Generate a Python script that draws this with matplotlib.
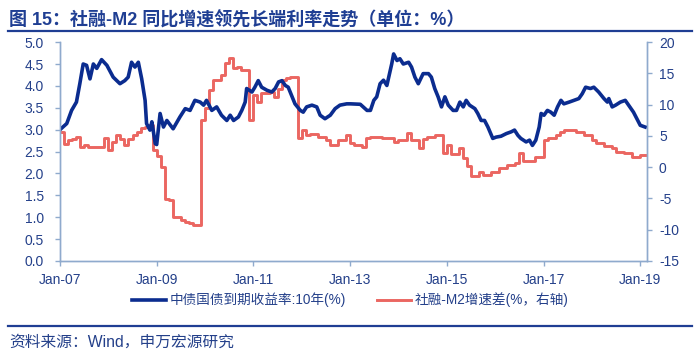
import matplotlib
matplotlib.use("Agg")
import matplotlib.pyplot as plt
import numpy as np

plt.rcParams['font.family'] = ['Liberation Sans', 'Noto Sans CJK SC', 'DejaVu Sans']
plt.rcParams['axes.unicode_minus'] = False

# 中债国债到期收益率:10年(%)  (decimal year, value)
yield_t = [2007.00, 2007.14, 2007.24, 2007.34, 2007.41, 2007.48, 2007.55, 2007.62, 2007.69, 2007.76,
           2007.86, 2007.97, 2008.10, 2008.24, 2008.34, 2008.41, 2008.48, 2008.55, 2008.62, 2008.69,
           2008.76, 2008.79, 2008.86, 2008.90, 2008.97, 2009.00, 2009.07, 2009.14, 2009.21, 2009.34,
           2009.48, 2009.59, 2009.69, 2009.79, 2009.90, 2009.97, 2010.03, 2010.14, 2010.24, 2010.34,
           2010.45, 2010.52, 2010.59, 2010.69, 2010.76, 2010.83, 2010.86, 2010.97, 2011.03, 2011.10,
           2011.17, 2011.28, 2011.38, 2011.45, 2011.52, 2011.59, 2011.66, 2011.72, 2011.79, 2011.86,
           2011.97, 2012.03, 2012.10, 2012.21, 2012.31, 2012.38, 2012.48, 2012.59, 2012.69, 2012.79,
           2012.93, 2013.01, 2013.21, 2013.35, 2013.42, 2013.49, 2013.55, 2013.62, 2013.69, 2013.76,
           2013.86, 2013.90, 2013.97, 2014.03, 2014.10, 2014.21, 2014.27, 2014.34, 2014.41, 2014.51,
           2014.62, 2014.68, 2014.75, 2014.82, 2014.89, 2014.96, 2015.03, 2015.13, 2015.20, 2015.27,
           2015.34, 2015.40, 2015.47, 2015.58, 2015.64, 2015.71, 2015.78, 2015.85, 2015.95, 2016.02,
           2016.12, 2016.23, 2016.33, 2016.40, 2016.47, 2016.53, 2016.64, 2016.71, 2016.77, 2016.84,
           2016.91, 2016.95, 2017.01, 2017.08, 2017.15, 2017.22, 2017.29, 2017.36, 2017.42, 2017.53,
           2017.63, 2017.73, 2017.80, 2017.87, 2017.97, 2018.04, 2018.14, 2018.25, 2018.32, 2018.35,
           2018.42, 2018.49, 2018.59, 2018.69, 2018.76, 2018.86, 2018.93, 2019.00, 2019.10]
yield_v = [3.00, 3.14, 3.44, 3.63, 4.05, 4.50, 4.47, 4.16, 4.50, 4.40,
           4.60, 4.47, 4.20, 4.05, 4.12, 4.20, 4.54, 4.43, 4.54, 4.16,
           3.67, 3.14, 2.99, 3.18, 2.68, 2.66, 3.37, 3.06, 3.21, 3.02,
           3.29, 3.48, 3.44, 3.67, 3.63, 3.56, 3.67, 3.44, 3.52, 3.33,
           3.21, 3.33, 3.21, 3.29, 3.44, 3.63, 3.94, 3.86, 3.97, 4.12,
           3.97, 3.90, 3.86, 3.94, 4.09, 4.12, 4.01, 3.97, 3.78, 3.59,
           3.44, 3.40, 3.52, 3.56, 3.52, 3.33, 3.25, 3.33, 3.48, 3.56,
           3.59, 3.59, 3.58, 3.44, 3.44, 3.67, 3.75, 4.05, 4.13, 4.01,
           4.50, 4.73, 4.58, 4.62, 4.50, 4.54, 4.43, 4.20, 4.05, 4.28,
           4.28, 4.20, 3.94, 3.75, 3.52, 3.75, 3.56, 3.44, 3.44, 3.63,
           3.52, 3.67, 3.56, 3.48, 3.37, 3.21, 3.21, 3.06, 2.80, 2.83,
           2.85, 2.91, 2.95, 2.99, 2.87, 2.80, 2.72, 2.76, 2.64, 2.76,
           3.06, 3.37, 3.33, 3.44, 3.40, 3.33, 3.52, 3.67, 3.59, 3.63,
           3.67, 3.71, 3.82, 3.97, 3.94, 3.97, 3.86, 3.71, 3.63, 3.71,
           3.52, 3.56, 3.63, 3.67, 3.56, 3.40, 3.25, 3.10, 3.06]

# 社融-M2增速差(%, 右轴), monthly from Jan-2007 to Jan-2019
spread_start = 2007.0
spread_v = [5.7, 3.7, 4.3, 4.5, 4.8, 3.3, 3.5, 3.3, 3.3, 3.3, 3.3, 4.6,
            2.7, 4.0, 5.1, 4.5, 3.6, 4.5, 5.1, 5.7, 6.2, 6.5, 6.7, 2.7,
            1.8, 0.1, -5.1, -5.3, -7.9, -7.9, -8.4, -8.7, -8.9, -9.2, -9.2, 7.5,
            9.4, 12.3, 13.9, 13.9, 14.7, 16.6, 17.4, 15.8, 16.0, 15.6, 15.6, 7.5,
            11.5, 10.4, 11.8, 11.8, 12.0, 11.2, 12.5, 13.9, 14.2, 14.4, 14.4, 4.6,
            5.9, 5.1, 5.3, 5.3, 4.8, 4.8, 4.3, 3.5, 3.5, 4.3, 4.3, 5.1,
            3.8, 3.5, 3.5, 3.2, 4.6, 4.8, 4.8, 4.8, 4.6, 4.6, 4.6, 4.0,
            4.3, 4.3, 5.4, 4.3, 4.3, 3.0, 4.5, 4.8, 4.8, 5.2, 5.2, 2.3,
            3.5, 2.1, 2.1, 3.0, 1.5, 0.2, -1.4, -1.4, -0.7, -1.2, -1.2, -0.7,
            -0.7, -0.2, -0.2, 0.3, 0.3, 0.6, 2.2, 1.0, 1.0, 1.0, 1.7, 1.7,
            4.3, 4.6, 4.6, 5.1, 5.7, 6.0, 6.0, 6.0, 5.7, 5.7, 5.1, 5.1,
            4.3, 3.8, 3.8, 3.4, 3.4, 3.0, 2.5, 2.5, 2.2, 2.2, 1.7, 1.7,
            2.0]

xticks = [2007, 2009, 2011, 2013, 2015, 2017, 2019]
xtick_labels = ['Jan-07', 'Jan-09', 'Jan-11', 'Jan-13', 'Jan-15', 'Jan-17', 'Jan-19']

blue = '#0B2C8F'
red = '#EB6661'
axis_c = '#8FAACD'
text_c = '#24408A'
title_c = '#1F3E93'

spread_t = spread_start + np.arange(len(spread_v)) / 12.0
spread_t = np.append(spread_t, 2019.13)
spread_plot = np.append(spread_v, spread_v[-1])

fig = plt.figure(figsize=(7, 3.57), dpi=100)
ax = fig.add_axes([0.0857, 0.269, 0.8386, 0.613])
ax2 = ax.twinx()

l1, = ax.plot(yield_t, yield_v, color=blue, lw=2.6, solid_joinstyle='round')
l2, = ax2.plot(spread_t, spread_plot, color=red, lw=2.1, drawstyle='steps-post')
ax.set_zorder(ax2.get_zorder() + 1)
ax.patch.set_visible(False)

ax.set_xlim(2007.0, 2019.14)
ax.set_ylim(0, 5)
ax.set_yticks(np.arange(0, 5.01, 0.5))
ax.set_yticklabels(['%.1f' % v for v in np.arange(0, 5.01, 0.5)])
ax2.set_ylim(-15, 20)
ax2.set_yticks(range(-15, 21, 5))
ax.set_xticks(xticks)
ax.set_xticklabels(xtick_labels)

for a in (ax, ax2):
    a.spines['top'].set_visible(False)
    for s in ('left', 'right', 'bottom'):
        a.spines[s].set_color(axis_c)
        a.spines[s].set_linewidth(1.0)
    a.tick_params(colors=axis_c, labelcolor=text_c, labelsize=10, length=3.6, width=1)
ax.tick_params(axis='y', pad=8)
ax.tick_params(axis='x', pad=5)
ax2.tick_params(axis='y', pad=5)

fig.legend([l1, l2], ['中债国债到期收益率:10年(%)', '社融-M2增速差(%，右轴)'],
           loc='center', bbox_to_anchor=(0.5, 1 - 300 / 357), ncol=2, frameon=False,
           fontsize=9.8, labelcolor=text_c, handlelength=2.5, columnspacing=2.3,
           handletextpad=0.25)

fig.text(0.013, 1 - 20 / 357, '图 15：社融-M2 同比增速领先长端利率走势（单位：%）',
         fontsize=13, fontweight='bold', color=title_c, va='center', ha='left')
fig.add_artist(plt.Line2D([0.012, 0.989], [1 - 31 / 357] * 2, color=title_c, lw=1.6))
fig.add_artist(plt.Line2D([0.012, 0.989], [1 - 326 / 357] * 2, color=title_c, lw=1.6))
fig.text(0.013, 1 - 342 / 357, '资料来源：Wind，申万宏源研究',
         fontsize=11.3, color=text_c, va='center', ha='left')

fig.savefig('out.png', dpi=100)
